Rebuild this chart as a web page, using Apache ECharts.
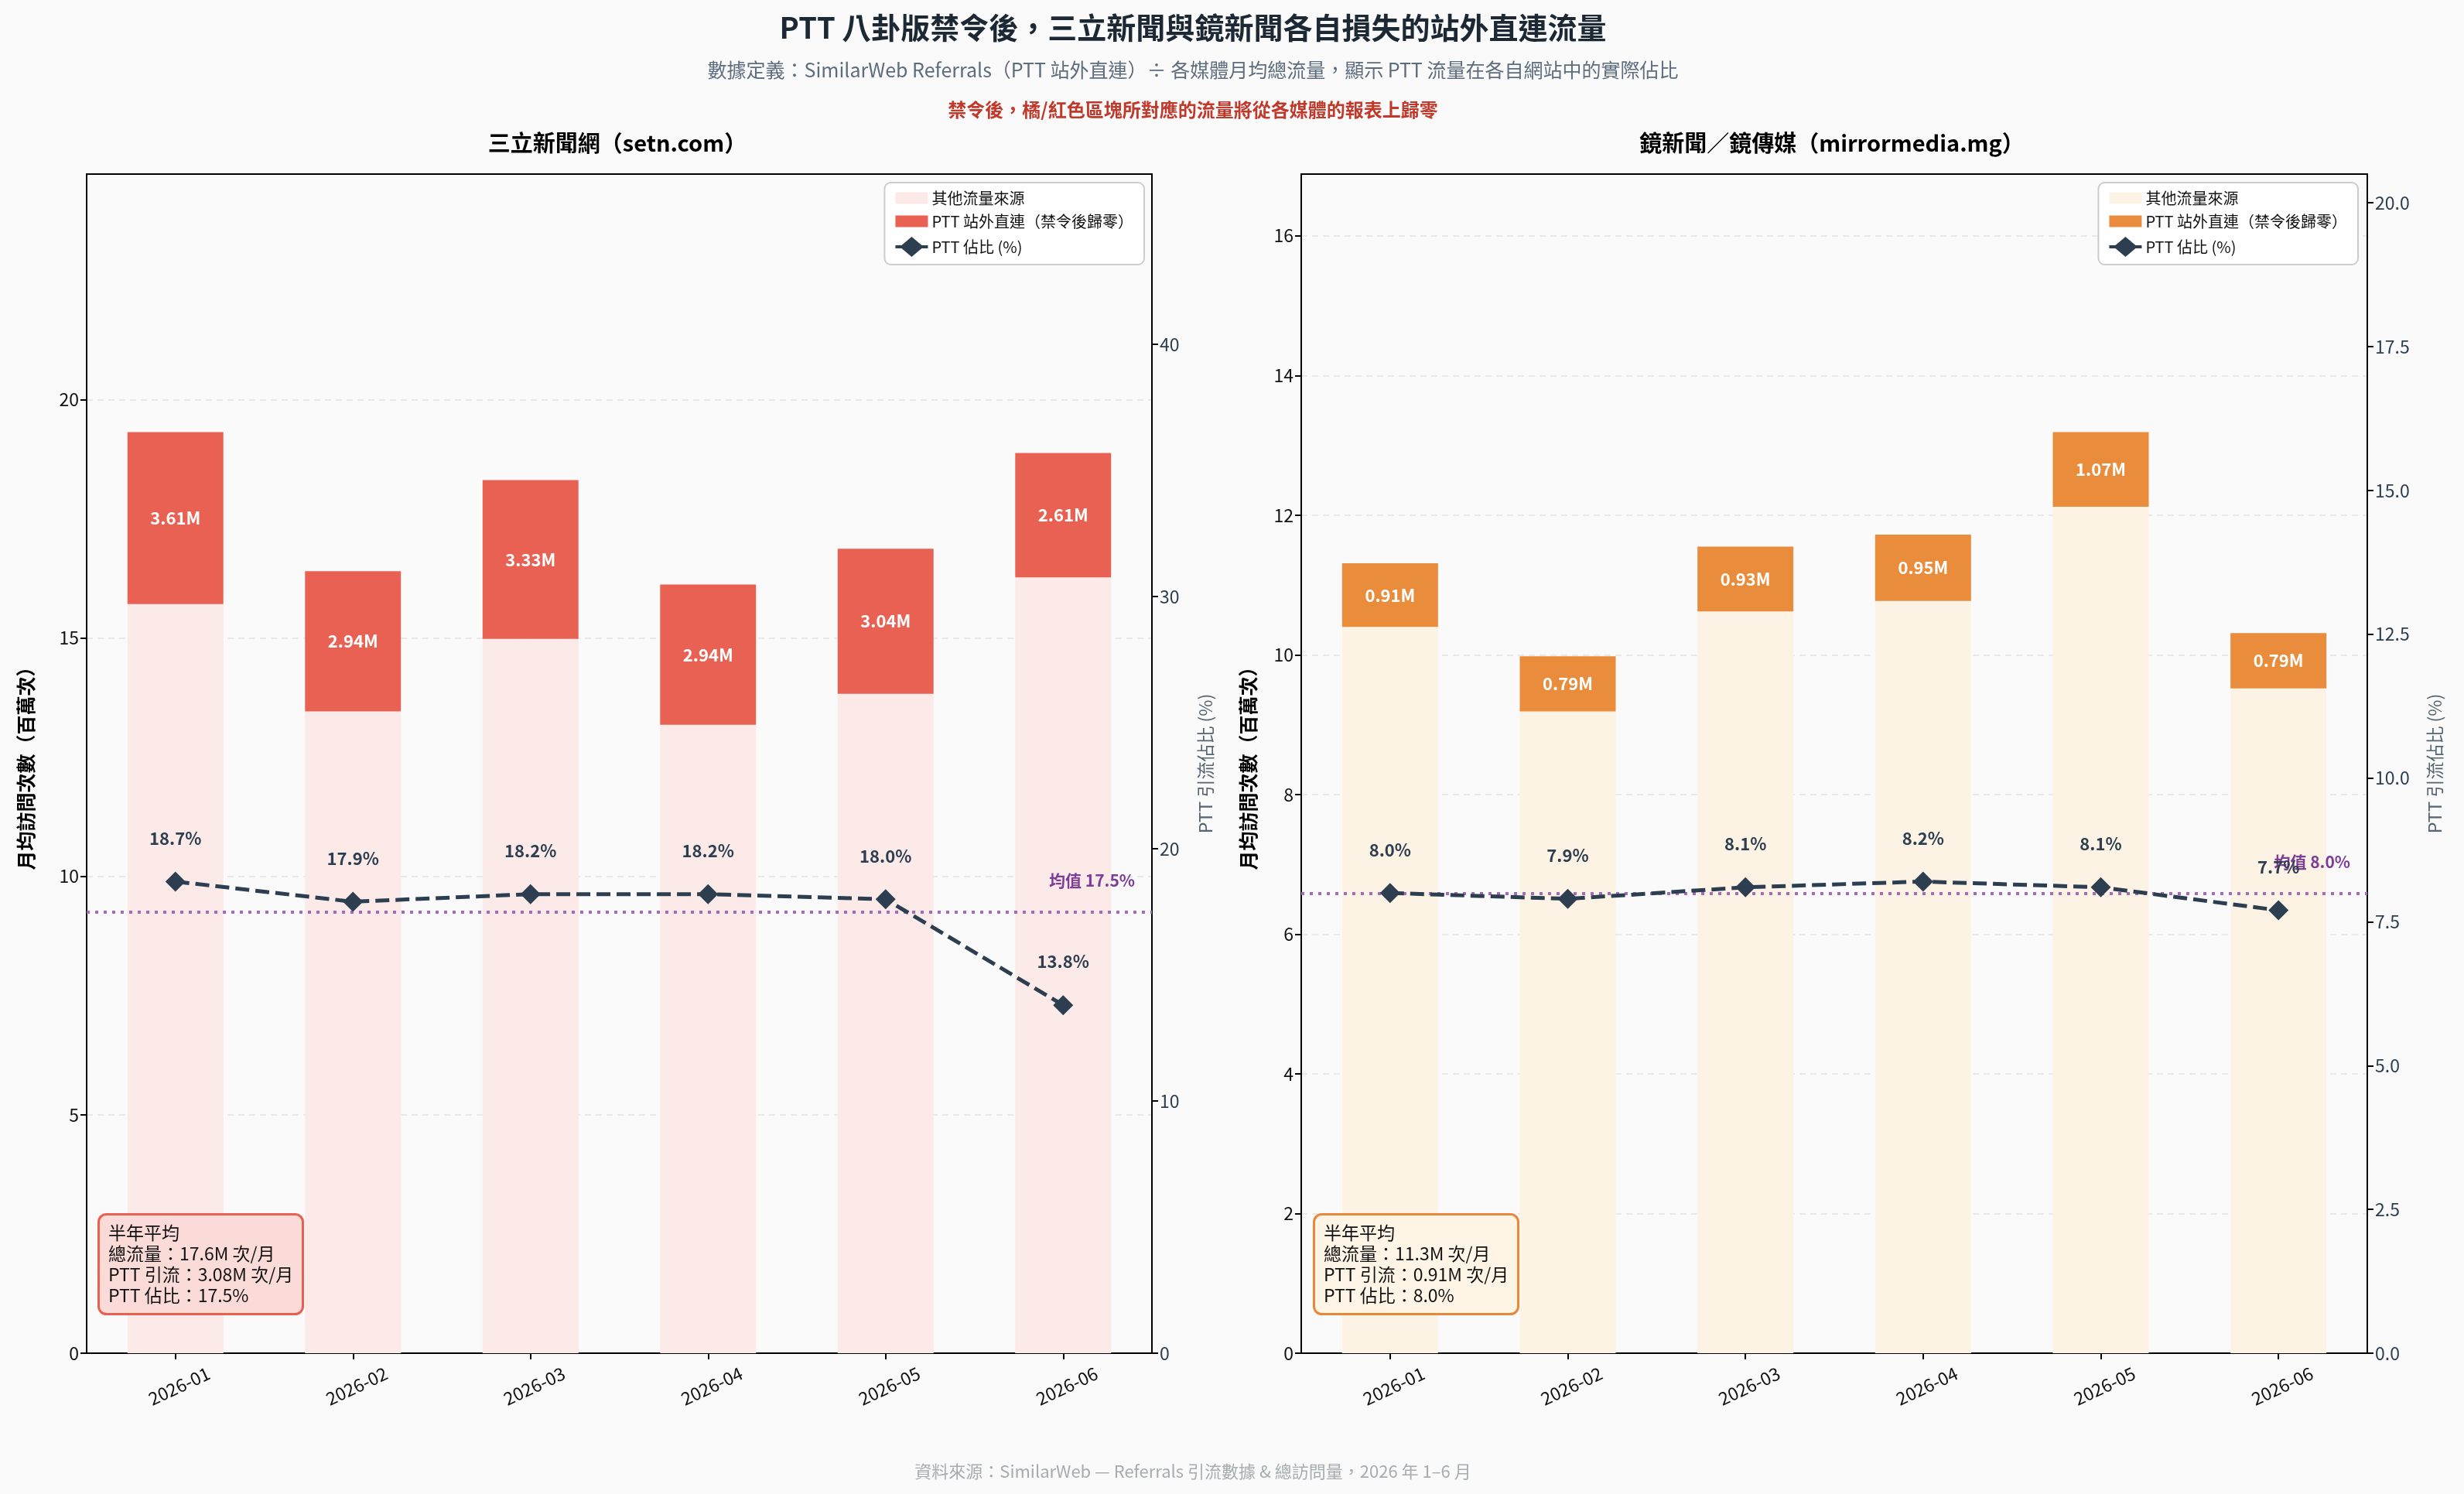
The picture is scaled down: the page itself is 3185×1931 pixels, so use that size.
<!DOCTYPE html>
<html>
<head>
<meta charset="utf-8">
<script src="https://cdn.jsdelivr.net/npm/echarts@6/dist/echarts.min.js"></script>
<style>
html,body{margin:0;padding:0;background:#fafafa}
#main{width:3185px;height:1931px}
</style>
</head>
<body>
<div id="main"></div>
<script>
var months = ['2026-01', '2026-02', '2026-03', '2026-04', '2026-05', '2026-06'];

// 三立新聞網 setn.com（百萬次）
var setnOther = [15.71, 13.46, 14.98, 13.18, 13.83, 16.27];
var setnPtt = [3.61, 2.94, 3.33, 2.94, 3.04, 2.61];
var setnPct = [18.7, 17.9, 18.2, 18.2, 18.0, 13.8];
var setnMean = 17.5;
var setnNote = ['半年平均', '總流量：17.6M 次/月', 'PTT 引流：3.08M 次/月', 'PTT 佔比：17.5%'];

// 鏡新聞 mirrormedia.mg（百萬次）
var mirrorOther = [10.40, 9.19, 10.62, 10.77, 12.12, 9.52];
var mirrorPtt = [0.91, 0.79, 0.93, 0.95, 1.07, 0.79];
var mirrorPct = [8.0, 7.9, 8.1, 8.2, 8.1, 7.7];
var mirrorMean = 8.0;
var mirrorNote = ['半年平均', '總流量：11.3M 次/月', 'PTT 引流：0.91M 次/月', 'PTT 佔比：8.0%'];

var FONT = '"Noto Sans CJK TC", "Noto Sans", sans-serif';
var W = 3185;
var MID = 1537; // 原圖的大標題並非置中於整張圖
var grids = [
  {left: 112, right: W - 1489, top: 225, bottom: 182},
  {left: 1682, right: W - 3060, top: 225, bottom: 182}
];
// 圖例圖示：色塊 / 線+菱形
var ICON_RECT = 'path://M0,0H42V15H0Z';
var ICON_LINE = 'path://M0,11H8L21,0L34,11H42V15H34L21,26L8,15H0Z';

function totals(a, b) {
  return a.map(function (v, i) { return v + b[i]; });
}

// 左右軸的上限跟著資料走（跟原圖一樣留空間給圖例）
function leftAxis(i, max, step, nameGap) {
  return {
    type: 'value', gridIndex: i, position: 'left', min: 0, max: max, interval: step,
    name: '月均訪問次數（百萬次）', nameLocation: 'middle', nameRotate: 90, nameGap: nameGap,
    nameTextStyle: {fontSize: 25, fontWeight: 'bold', color: '#000', fontFamily: FONT},
    axisLine: {show: true, lineStyle: {color: '#000', width: 2}},
    axisTick: {show: true, length: 8, lineStyle: {color: '#000', width: 2}},
    axisLabel: {fontSize: 23, color: '#111', fontFamily: FONT, margin: 10, showMaxLabel: false},
    splitLine: {show: true, showMaxLine: false, showMinLine: false,
      lineStyle: {color: '#e3e3e3', width: 1.5, type: [8, 6]}}
  };
}
function rightAxis(i, max, step, digits, nameGap) {
  return {
    type: 'value', gridIndex: i, position: 'right', min: 0, max: max, interval: step,
    name: 'PTT 引流佔比 (%)', nameLocation: 'middle', nameRotate: 90, nameGap: nameGap,
    nameTextStyle: {fontSize: 23, color: '#566573', fontFamily: FONT},
    axisLine: {show: true, lineStyle: {color: '#000', width: 2}},
    axisTick: {show: true, length: 8, lineStyle: {color: '#000', width: 2}},
    axisLabel: {fontSize: 23, color: '#2c3e50', fontFamily: FONT, margin: 10, showMaxLabel: false,
      formatter: function (v) { return v.toFixed(digits); }},
    splitLine: {show: false}
  };
}

function panelSeries(i, other, ptt, pct, mean, light, strong) {
  return [
    {
      name: '其他流量來源', type: 'bar', stack: 'p' + i, xAxisIndex: i, yAxisIndex: i * 2,
      data: other, barWidth: '54%', itemStyle: {color: light}
    },
    {
      name: 'PTT 站外直連（禁令後歸零）', type: 'bar', stack: 'p' + i, xAxisIndex: i, yAxisIndex: i * 2,
      data: ptt, barWidth: '54%', itemStyle: {color: strong},
      label: {
        show: true, position: 'inside', color: '#fff', fontSize: 22, fontWeight: 'bold', fontFamily: FONT,
        formatter: function (p) { return p.value.toFixed(2) + 'M'; }
      }
    },
    {
      name: 'PTT 佔比 (%)', type: 'line', xAxisIndex: i, yAxisIndex: i * 2 + 1, z: 5,
      data: pct, symbol: 'diamond', symbolSize: 26,
      lineStyle: {color: '#2c3e50', width: 5, type: [18, 8]},
      itemStyle: {color: '#2c3e50'},
      label: {
        show: true, position: 'top', distance: 32, color: '#2c3e50', fontSize: 22, fontWeight: 'bold', fontFamily: FONT,
        formatter: function (p) { return p.value.toFixed(1) + '%'; }
      },
      markLine: {
        silent: true, symbol: 'none', animation: false,
        data: [{yAxis: mean}],
        lineStyle: {color: '#a569bd', width: 4, type: [4, 7]},
        label: {
          position: 'insideEndTop', distance: [22, 30], color: '#7d3c98', fontSize: 21, fontWeight: 'bold', fontFamily: FONT,
          formatter: '均值 ' + mean.toFixed(1) + '%'
        }
      }
    }
  ];
}

function legendFor(right, light, strong) {
  return {
    orient: 'vertical', right: right, top: 236, selectedMode: false,
    itemWidth: 42, itemHeight: 26, itemGap: 10, symbolKeepAspect: true,
    backgroundColor: '#ffffff', borderColor: '#cccccc', borderWidth: 2, borderRadius: 8, padding: [10, 14],
    textStyle: {fontSize: 20, color: '#111', fontFamily: FONT},
    data: [
      {name: '其他流量來源', icon: ICON_RECT, itemStyle: {color: light}},
      {name: 'PTT 站外直連（禁令後歸零）', icon: ICON_RECT, itemStyle: {color: strong}},
      {name: 'PTT 佔比 (%)', icon: ICON_LINE, itemStyle: {color: '#2c3e50'}}
    ]
  };
}

function noteBox(left, lines, fill, border) {
  return {
    text: lines.join('\n'), left: left, top: 1569,
    backgroundColor: fill, borderColor: border, borderWidth: 3, borderRadius: 10, padding: [11, 13],
    textStyle: {fontSize: 23, lineHeight: 27, fontWeight: 'normal', color: '#111', fontFamily: FONT}
  };
}

function xAxisFor(i) {
  return {
    type: 'category', gridIndex: i, data: months,
    axisLine: {show: true, lineStyle: {color: '#000', width: 2}},
    axisTick: {show: true, alignWithLabel: true, length: 8, lineStyle: {color: '#000', width: 2}},
    axisLabel: {rotate: 25, align: 'center', verticalAlign: 'top', margin: 32, fontSize: 23, color: '#111', fontFamily: FONT}
  };
}

var setnTotal = totals(setnOther, setnPtt);
var mirrorTotal = totals(mirrorOther, mirrorPtt);

var myChart = echarts.init(document.getElementById('main'));
var option = {
  backgroundColor: '#fafafa',
  animation: false,
  textStyle: {fontFamily: FONT},
  title: [
    {text: 'PTT 八卦版禁令後，三立新聞與鏡新聞各自損失的站外直連流量', left: MID, textAlign: 'center', top: 12,
      textStyle: {fontSize: 38, fontWeight: 'bold', color: '#1c2833', fontFamily: FONT}},
    {text: '數據定義：SimilarWeb Referrals（PTT 站外直連）÷ 各媒體月均總流量，顯示 PTT 流量在各自網站中的實際佔比', left: MID, textAlign: 'center', top: 73,
      textStyle: {fontSize: 25, fontWeight: 'normal', color: '#5d6d7e', fontFamily: FONT}},
    {text: '禁令後，橘/紅色區塊所對應的流量將從各媒體的報表上歸零', left: MID, textAlign: 'center', top: 125,
      textStyle: {fontSize: 24, fontWeight: 'bold', color: '#c0392b', fontFamily: FONT}},
    {text: '三立新聞網（setn.com）', left: 793, textAlign: 'center', top: 165,
      textStyle: {fontSize: 29, fontWeight: 'bold', color: '#000', fontFamily: FONT}},
    {text: '鏡新聞／鏡傳媒（mirrormedia.mg）', left: 2363, textAlign: 'center', top: 165,
      textStyle: {fontSize: 29, fontWeight: 'bold', color: '#000', fontFamily: FONT}},
    {text: '資料來源：SimilarWeb — Referrals 引流數據 & 總訪問量，2026 年 1–6 月', left: MID, textAlign: 'center', top: 1886,
      textStyle: {fontSize: 22, fontWeight: 'normal', color: '#a6acaf', fontFamily: FONT}},
    noteBox(127, setnNote, '#fadbd8', '#e8604f'),
    noteBox(1698, mirrorNote, '#fef5e7', '#e8893a')
  ],
  legend: [
    legendFor(W - 1479, '#fbeae7', '#e96153'),
    legendFor(W - 3048, '#fcf3e4', '#e98d3c')
  ],
  grid: grids.map(function (g) {
    return Object.assign({show: true, borderColor: '#000', borderWidth: 2, backgroundColor: '#fafafa'}, g);
  }),
  xAxis: [xAxisFor(0), xAxisFor(1)],
  yAxis: [
    leftAxis(0, Math.max.apply(null, setnTotal) * 1.28, 5, 66),
    rightAxis(0, Math.max.apply(null, setnPct) * 2.5, 10, 0, 58),
    leftAxis(1, Math.max.apply(null, mirrorTotal) * 1.28, 2, 56),
    rightAxis(1, Math.max.apply(null, mirrorPct) * 2.5, 2.5, 1, 76)
  ],
  series: panelSeries(0, setnOther, setnPtt, setnPct, setnMean, '#fbeae7', '#e96153')
    .concat(panelSeries(1, mirrorOther, mirrorPtt, mirrorPct, mirrorMean, '#fcf3e4', '#e98d3c'))
};
option && myChart.setOption(option);
</script>
</body>
</html>
